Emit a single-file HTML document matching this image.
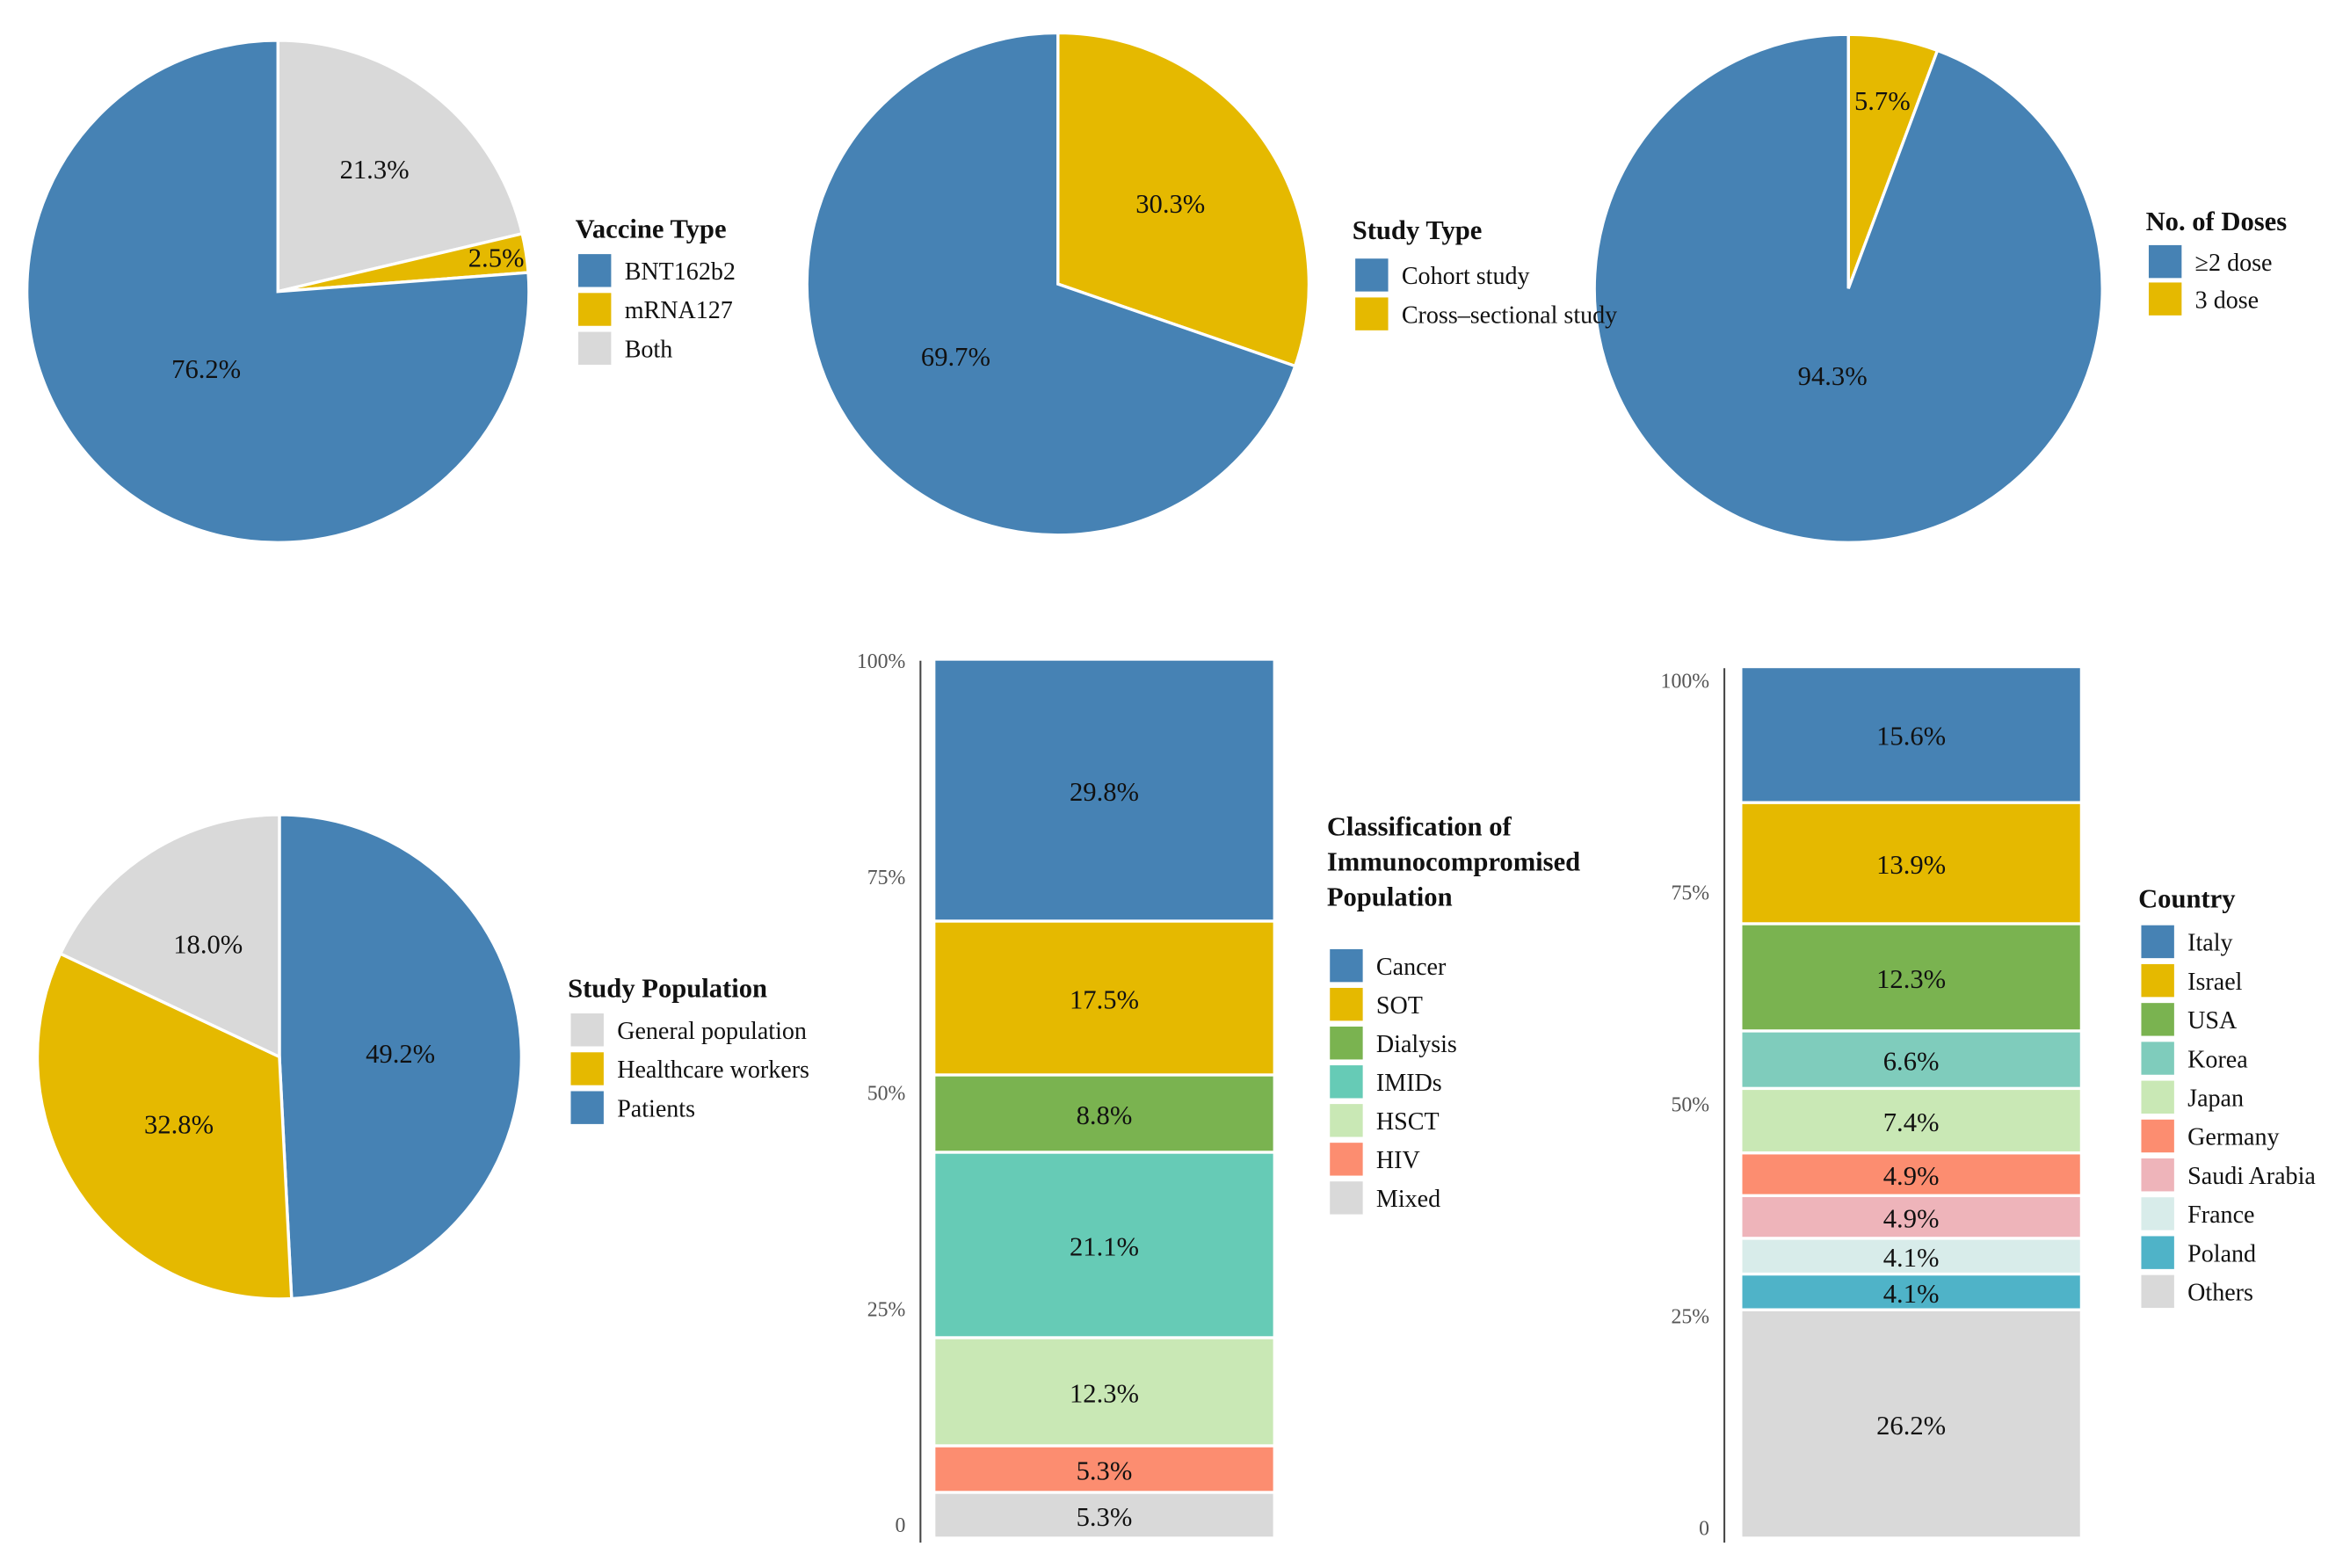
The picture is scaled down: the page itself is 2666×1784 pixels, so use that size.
<!DOCTYPE html>
<html><head><meta charset="utf-8">
<style>
html,body{margin:0;padding:0;background:#fff;}
svg{display:block;}
text{font-family:"Liberation Serif",serif;}
</style></head>
<body>
<svg id="chart" width="2666" height="1784" viewBox="0 0 1568 1049" preserveAspectRatio="none" xmlns="http://www.w3.org/2000/svg"></svg>
<script>
// ---- data ----
const vaccineLabels = ["Both","mRNA127","BNT162b2"];
const vaccineValues = [21.3, 2.5, 76.2];
const vaccineLegend = ["BNT162b2","mRNA127","Both"];

const studyTypeLabels = ["Cross-sectional study","Cohort study"];
const studyTypeValues = [30.3, 69.7];
const studyTypeLegend = ["Cohort study","Cross\u2013sectional study"];

const doseLabels = ["3 dose","\u22652 dose"];
const doseValues = [5.7, 94.3];
const doseLegend = ["\u22652 dose","3 dose"];

const popLabels = ["Patients","Healthcare workers","General population"];
const popValues = [49.2, 32.8, 18.0];
const popLegend = ["General population","Healthcare workers","Patients"];

const classCategories = ["Cancer","SOT","Dialysis","IMIDs","HSCT","HIV","Mixed"];
const classValues = [29.8, 17.5, 8.8, 21.1, 12.3, 5.3, 5.3];

const countryCategories = ["Italy","Israel","USA","Korea","Japan","Germany","Saudi Arabia","France","Poland","Others"];
const countryValues = [15.6, 13.9, 12.3, 6.6, 7.4, 4.9, 4.9, 4.1, 4.1, 26.2];

const tickValues = [0, 25, 50, 75, 100];
const tickLabels = ["0","25%","50%","75%","100%"];

// ---- colours ----
const C = {
  "BNT162b2":"#4682b4","mRNA127":"#e5b900","Both":"#d9d9d9",
  "Cohort study":"#4682b4","Cross-sectional study":"#e5b900","Cross\u2013sectional study":"#e5b900",
  "\u22652 dose":"#4682b4","3 dose":"#e5b900",
  "Patients":"#4682b4","Healthcare workers":"#e5b900","General population":"#d9d9d9",
  "Cancer":"#4682b4","SOT":"#e5b900","Dialysis":"#7ab350","IMIDs":"#66cbb6","HSCT":"#c9e8b5","HIV":"#fc8d70","Mixed":"#d9d9d9",
  "Italy":"#4682b4","Israel":"#e5b900","USA":"#7ab350","Korea":"#7fccbc","Japan":"#c9e8b5","Germany":"#fc8d70","Saudi Arabia":"#eeb4ba","France":"#d8ecea","Poland":"#4fb3c8","Others":"#d9d9d9"
};

const NS="http://www.w3.org/2000/svg";
const svg=document.getElementById('chart');
function mk(tag,attrs,parent){const e=document.createElementNS(NS,tag);for(const k in attrs)e.setAttribute(k,attrs[k]);(parent||svg).appendChild(e);return e;}
function txt(s,x,y,size,opts,parent){const t=mk('text',Object.assign({x:x,y:y,'font-size':size,fill:'#111'},opts||{}),parent);t.textContent=s;return t;}

function pie(name,cx,cy,r,labels,values,labelPos){
  const g=mk('g',{});
  
  
  const tot=values.reduce((a,b)=>a+b,0);
  let a0=0;
  values.forEach((v,i)=>{
    const a1=a0+v/tot*2*Math.PI;
    const x0=cx+r*Math.sin(a0),y0=cy-r*Math.cos(a0),x1=cx+r*Math.sin(a1),y1=cy-r*Math.cos(a1);
    const large=(a1-a0)>Math.PI?1:0;
    const p=mk('path',{d:`M${cx},${cy} L${x0},${y0} A${r},${r} 0 ${large} 1 ${x1},${y1} Z`,fill:C[labels[i]],stroke:'#fff','stroke-width':2},g);
    
    
    const mid=(a0+a1)/2, lr=r*labelPos[i];
    const t=txt(v.toFixed(1)+'%',cx+lr*Math.sin(mid),cy-lr*Math.cos(mid)+6,18,{'text-anchor':'middle'},g);
    
    
    a0=a1;
  });
}

function legend(name,x,y,titleLines,items,boxY,gap){
  const g=mk('g',{});
  
  
  titleLines.forEach((l,i)=>{const t=txt(l,x,y+i*23.5,18,{'font-weight':'bold'},g);
    
    });
  items.forEach((it,i)=>{
    const yy=boxY+i*gap;
    const r=mk('rect',{x:x+2,y:yy,width:22,height:22,fill:C[it]},g);
    
    
    const t=txt(it,x+33,yy+17,16.5,{},g);
    
    
  });
}

function stackBar(name,axisX,barX,barW,top,bottom,tickTop,tickBottom,cats,vals){
  const g=mk('g',{});
  
  
  const y=v=>bottom-(bottom-top)*v/100;
  const yt=v=>tickBottom-(tickBottom-tickTop)*v/100;
  const ax=mk('line',{x1:axisX,y1:top,x2:axisX,y2:bottom+2,stroke:'#444','stroke-width':1.2},g);
  
  
  tickValues.forEach((v,i)=>{
    const t=txt(tickLabels[i],axisX-10,yt(v)+5,14,{'text-anchor':'end',fill:'#555'},g);
    
    
  });
  let cum=100;
  cats.forEach((c,i)=>{
    const v=vals[i];
    const y1=y(cum), y2=y(Math.max(cum-v,0));
    const r=mk('rect',{x:barX,y:y1,width:barW,height:Math.max(y2-y1-2,1),fill:C[c]},g);
    
    
    const t=txt(v.toFixed(1)+'%',barX+barW/2,(y1+y2)/2+6,18,{'text-anchor':'middle'},g);
    
    
    cum-=v;
  });
}

pie('vaccine-type-pie',186,195,168,vaccineLabels,vaccineValues,[0.62,0.88,0.42]);
pie('study-type-pie',708,190,168,studyTypeLabels,studyTypeValues,[0.55,0.5]);
pie('doses-pie',1237,193,170,doseLabels,doseValues,[0.75,0.35]);
pie('study-population-pie',187,707,162,popLabels,popValues,[0.5,0.5,0.55]);

legend('vaccine-type-legend',385,159,['Vaccine Type'],vaccineLegend,170,26);
legend('study-type-legend',905,160,['Study Type'],studyTypeLegend,173,26);
legend('doses-legend',1436,154,['No. of Doses'],doseLegend,164,25);
legend('study-population-legend',380,667,['Study Population'],popLegend,678,26);

stackBar('immunocompromised-bar',616,626,226,442,1030,442,1020,classCategories,classValues);
legend('immunocompromised-legend',888,559,['Classification of','Immunocompromised','Population'],classCategories,635,25.9);

stackBar('country-bar',1154,1166,226,447,1030,455,1022,countryCategories,countryValues);
legend('country-legend',1431,607,['Country'],countryCategories,619,26);
</script>
</body></html>
